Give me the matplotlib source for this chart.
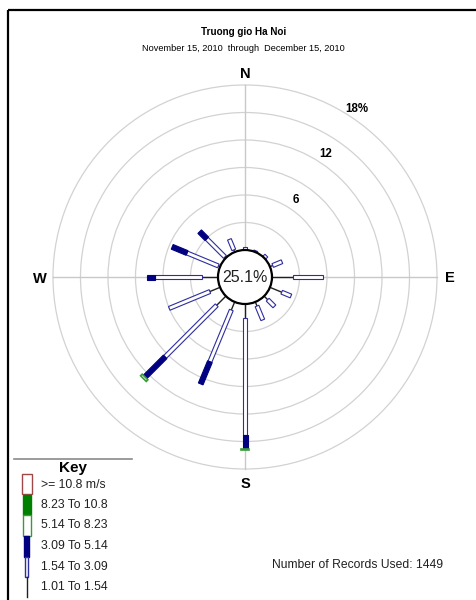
import numpy as np
import matplotlib.pyplot as plt
from matplotlib.patches import Circle, Polygon, Rectangle

plt.rcParams['font.family'] = ['Liberation Sans', 'DejaVu Sans']

# wind directions, clockwise from north
directions = ['N', 'NNE', 'NE', 'ENE', 'E', 'ESE', 'SE', 'SSE',
              'S', 'SSW', 'SW', 'WSW', 'W', 'WNW', 'NW', 'NNW']
angles = np.arange(16) * 22.5

# percent of records in each speed class, per direction (stacked outward)
pct_101_154 = [0.05, 0.05, 0.05, 0.33, 2.26, 1.39, 0.55, 0.48,
               1.56, 0.95, 1.42, 1.20, 1.78, 0.20, 0.15, 0.25]
pct_154_309 = [0.30, 0.10, 0.30, 1.09, 3.27, 1.09, 1.04, 1.64,
               12.73, 6.11, 7.96, 4.80, 5.09, 3.70, 2.80, 1.25]
pct_309_514 = [0, 0, 0, 0, 0, 0, 0, 0,
               1.56, 2.62, 3.10, 0, 0.91, 1.75, 1.10, 0]
pct_514_823 = [0, 0, 0, 0, 0, 0, 0, 0,
               0.10, 0, 0.25, 0, 0, 0, 0, 0]
calm_pct = 25.1
n_records = 1449

ring_values = [3, 6, 9, 12, 15, 18]
ring_labels = ['', '6', '', '12', '', '18%']
key_labels = ['>= 10.8 m/s', '8.23 To 10.8', '5.14 To 8.23',
              '3.09 To 5.14', '1.54 To 3.09', '1.01 To 1.54']

title = 'Truong gio Ha Noi'
subtitle = 'November 15, 2010  through  December 15, 2010'

# layout (pixels)
cx, cy = 245, 277
hole = 27
px_per_pct = 165 / 18.0

fig = plt.figure(figsize=(4.76, 6.0), dpi=100)
ax = fig.add_axes([0, 0, 1, 1])
ax.set_xlim(0, 476)
ax.set_ylim(600, 0)
ax.axis('off')

grid_col = '#d2d2d2'
for v in ring_values:
    ax.add_patch(Circle((cx, cy), hole + v * px_per_pct, fill=False,
                        ec=grid_col, lw=0.9, zorder=1))
r_out = hole + ring_values[-1] * px_per_pct
for a in [0, 90, 180, 270]:
    t = np.deg2rad(a)
    ax.plot([cx + hole * np.sin(t), cx + r_out * np.sin(t)],
            [cy - hole * np.cos(t), cy - r_out * np.cos(t)],
            color='#c8c8c8', lw=1.0, zorder=1)

for lab, v in zip(ring_labels, ring_values):
    if lab:
        t = np.deg2rad(33.5)
        r = hole + v * px_per_pct + 10
        ax.text(cx + r * np.sin(t), cy - r * np.cos(t), lab, fontsize=8.3,
                fontweight='bold', ha='center', va='center', zorder=2)


def bar(a, r0, r1, w, fc, ec, lw=0.8):
    t = np.deg2rad(a)
    u = np.array([np.sin(t), -np.cos(t)])
    p = np.array([np.cos(t), np.sin(t)])
    c = np.array([cx, cy])
    pts = [c + u * r0 + p * w / 2, c + u * r1 + p * w / 2,
           c + u * r1 - p * w / 2, c + u * r0 - p * w / 2]
    ax.add_patch(Polygon(pts, closed=True, fc=fc, ec=ec, lw=lw, zorder=3))


blue_ec = '#2e2e9e'
navy = '#000080'
green_ec = '#3a9a3a'
for i, a in enumerate(angles):
    r = hole
    t = np.deg2rad(a)
    r1 = r + pct_101_154[i] * px_per_pct
    ax.plot([cx + r * np.sin(t), cx + r1 * np.sin(t)],
            [cy - r * np.cos(t), cy - r1 * np.cos(t)],
            color='#202020', lw=1.0, zorder=3)
    r = r1
    if pct_154_309[i] > 0:
        r1 = r + pct_154_309[i] * px_per_pct
        bar(a, r, r1, 4, 'white', blue_ec)
        r = r1
    if pct_309_514[i] > 0:
        r1 = r + pct_309_514[i] * px_per_pct
        bar(a, r, r1, 5, navy, navy)
        r = r1
    if pct_514_823[i] > 0:
        r1 = r + pct_514_823[i] * px_per_pct
        bar(a, r, r1, 8, 'white', green_ec, lw=1.2)
        r = r1

ax.add_patch(Circle((cx, cy), hole, fc='white', ec='black', lw=1.6, zorder=4))
ax.text(cx, cy, f'{calm_pct}%', fontsize=11.5, ha='center', va='center',
        color='#202020', zorder=5)

# compass letters
for lab, a in zip(['N', 'E', 'S', 'W'], [0, 90, 180, 270]):
    t = np.deg2rad(a)
    r = r_out + 13
    ax.text(cx + r * np.sin(t), cy + 1.5 - r * np.cos(t), lab, fontsize=10.5,
            fontweight='bold', ha='center', va='center')

# titles
ax.text(244, 32, title, fontsize=7.1, fontweight='bold', ha='center', va='center')
ax.text(243, 48.5, subtitle, fontsize=6.6, ha='center', va='center')

# frame
ax.plot([8, 476], [10, 10], color='black', lw=1.6, solid_capstyle='butt')
ax.plot([8, 8], [10, 600], color='black', lw=1.6, solid_capstyle='butt')

# key
ax.plot([14, 132], [459, 459], color='#8a8a8a', lw=1.2)
ax.text(73, 468, 'Key', fontsize=11, fontweight='bold', ha='center', va='center')
key_y = [484.5 + 20.5 * k for k in range(6)]
key_top = [474, 495, 515, 536, 557, 577]
key_bot = [494, 515, 536, 557, 577, 597]
key_w = [10, 8, 8, 4.4, 3, 0]
key_fc = ['white', '#008000', 'white', navy, 'white', 'none']
key_ec = ['#a04848', '#008000', green_ec, navy, blue_ec, '#202020']
for k in range(6):
    if key_w[k] > 0:
        ax.add_patch(Rectangle((26.5 - key_w[k] / 2, key_top[k]), key_w[k],
                               key_bot[k] - key_top[k], fc=key_fc[k],
                               ec=key_ec[k], lw=1.0))
    else:
        ax.plot([26.5, 26.5], [key_top[k], key_bot[k]], color=key_ec[k], lw=1.0)
    ax.text(41, key_y[k], key_labels[k], fontsize=8.8, ha='left', va='center',
            color='#202020')

ax.text(272, 565, f'Number of Records Used: {n_records}', fontsize=8.7,
        ha='left', va='center', color='#202020')

fig.savefig('out.png', dpi=100)
